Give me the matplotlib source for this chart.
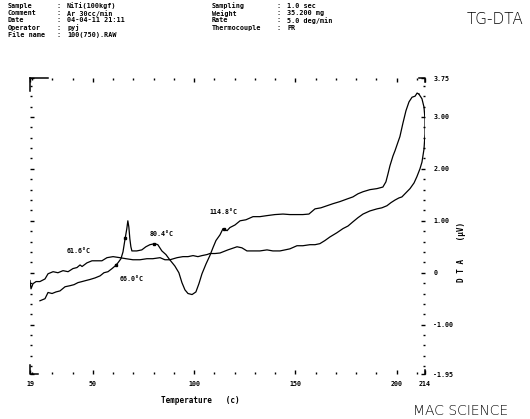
import matplotlib
matplotlib.use("Agg")
import matplotlib.pyplot as plt
import numpy as np

# heating run (lower-left start, sharp exotherm, dip, up to the top)
heat_T = [23.9, 26.4, 27.9, 29.9, 31.8, 33.8, 36.3, 38.7, 40.7, 42.7, 44.7, 46.6,
          48.6, 51.1, 53.6, 55.5, 57.5, 59.5, 61.0, 62.4, 63.9, 64.9, 65.8, 66.8,
          67.3, 67.8, 68.3, 68.8, 69.3, 71.7, 74.2, 76.2, 78.2, 80.6, 82.1, 84.1,
          86.1, 88.0, 90.5, 92.5, 94.0, 95.5, 97.0, 99.0, 100.9, 102.4, 103.9,
          105.9, 107.8, 109.3, 110.8, 112.8, 114.3, 116.3, 117.7, 120.2, 122.7,
          125.6, 129.1, 132.5, 136.0, 139.9, 143.9, 147.3, 150.8, 153.7, 156.7,
          159.7, 162.6, 165.6, 168.6, 172.0, 175.5, 178.4, 180.9, 183.4, 186.8,
          190.3, 193.2, 194.7, 195.7, 196.7, 198.2, 199.2, 200.7, 201.6, 203.1,
          204.6, 206.1, 207.6, 209.1, 210.1, 211.0]
heat_V = [-0.54, -0.50, -0.38, -0.40, -0.37, -0.35, -0.27, -0.25, -0.23, -0.19,
          -0.17, -0.15, -0.13, -0.10, -0.06, 0.00, 0.02, 0.08, 0.13, 0.19, 0.27,
          0.40, 0.62, 0.85, 1.00, 0.88, 0.65, 0.50, 0.42, 0.42, 0.44, 0.50, 0.54,
          0.56, 0.54, 0.42, 0.35, 0.25, 0.13, 0.00, -0.19, -0.33, -0.40, -0.42,
          -0.37, -0.21, -0.02, 0.17, 0.33, 0.48, 0.62, 0.73, 0.85, 0.81, 0.87,
          0.92, 1.00, 1.02, 1.08, 1.08, 1.10, 1.12, 1.13, 1.12, 1.12, 1.12, 1.13,
          1.23, 1.25, 1.29, 1.33, 1.37, 1.42, 1.46, 1.52, 1.56, 1.60, 1.62, 1.65,
          1.75, 1.90, 2.06, 2.25, 2.35, 2.52, 2.62, 2.88, 3.12, 3.29, 3.38, 3.40,
          3.46, 3.44]

# cooling run (stored low -> high temperature)
cool_T = [19.0, 19.5, 20.5, 22.0, 23.9, 26.4, 27.9, 30.4, 32.8, 35.3, 37.8, 40.2,
          42.2, 43.7, 44.7, 47.1, 49.6, 52.1, 54.5, 57.0, 60.0, 63.4, 66.4, 69.8,
          73.3, 76.7, 79.6, 83.2, 85.6, 88.1, 91.6, 94.5, 97.0, 99.5, 101.9, 103.9,
          106.4, 107.8, 110.3, 112.8, 116.7, 121.2, 123.6, 126.1, 129.1, 132.5,
          136.0, 138.9, 142.4, 144.9, 147.3, 150.8, 153.7, 157.2, 159.7, 162.1,
          164.6, 167.1, 170.5, 173.5, 176.0, 178.4, 180.9, 183.4, 186.8, 190.3,
          192.7, 195.2, 197.2, 199.2, 201.1, 202.6, 204.6, 206.6, 208.6, 210.0,
          211.5, 212.5, 213.5, 214.0, 214.0, 213.5, 212.5, 211.0]
cool_V = [-0.15, -0.31, -0.21, -0.17, -0.17, -0.12, -0.02, 0.02, 0.00, 0.04, 0.02,
          0.08, 0.10, 0.15, 0.12, 0.19, 0.23, 0.23, 0.23, 0.29, 0.31, 0.29, 0.27,
          0.25, 0.25, 0.27, 0.27, 0.29, 0.25, 0.25, 0.29, 0.31, 0.31, 0.33, 0.31,
          0.33, 0.35, 0.37, 0.37, 0.38, 0.44, 0.50, 0.48, 0.42, 0.42, 0.42, 0.44,
          0.42, 0.42, 0.44, 0.46, 0.52, 0.52, 0.54, 0.54, 0.56, 0.62, 0.69, 0.77,
          0.85, 0.90, 0.98, 1.06, 1.13, 1.19, 1.23, 1.25, 1.29, 1.35, 1.40, 1.44,
          1.46, 1.54, 1.62, 1.73, 1.85, 2.00, 2.13, 2.38, 2.67, 2.96, 3.19, 3.35,
          3.44]

# marked temperatures and where their labels sit (T, V)
peak_temps = [61.6, 66.0, 80.4, 114.8]
peak_labels = ["61.6°C", "66.0°C", "80.4°C", "114.8°C"]
label_T = [37.3, 63.4, 78.1, 107.8]
label_V = [0.42, -0.13, 0.75, 1.17]

x_ticks = [19, 50, 100, 150, 200, 214]
x_ticklabels = ["19", "50", "100", "150", "200", "214"]
y_ticks = [-1.95, -1.0, 0.0, 1.0, 2.0, 3.0, 3.75]
y_ticklabels = ["-1.95", "-1.00", "0", "1.00", "2.00", "3.00", "3.75"]

header_left = [("Sample", "NiTi(100kgf)"), ("Comment", "Ar 30cc/min"),
               ("Date", "04-04-11 21:11"), ("Operator", "pyj"),
               ("File name", "100(750).RAW")]
header_right = [("Sampling", "1.0 sec"), ("Weight", "35.200 mg"),
                ("Rate", "5.0 deg/min"), ("Thermocouple", "PR")]

W, H = 530, 419
mono = "DejaVu Sans Mono"

fig = plt.figure(figsize=(W / 100, H / 100), dpi=100)
ax = fig.add_axes([30 / W, 1 - 374 / H, 395 / W, 296 / H])

ax.plot(heat_T, heat_V, color="black", lw=0.9)
ax.plot(cool_T, cool_V, color="black", lw=0.9)

mark_V = np.interp(peak_temps, heat_T, heat_V)
ax.plot(peak_temps, mark_V, "s", color="black", ms=1.8)
for t, v, s in zip(label_T, label_V, peak_labels):
    ax.text(t, v, s, fontsize=4.8, family=mono, fontweight="bold", va="center")

ax.set_xlim(19, 214)
ax.set_ylim(-1.95, 3.75)
for sp in ax.spines.values():
    sp.set_visible(False)

ax.set_xticks(x_ticks)
ax.set_xticklabels(x_ticklabels)
ax.set_xticks([t for t in range(20, 214, 10) if t % 50], minor=True)
ax.set_yticks(y_ticks)
ax.set_yticklabels(y_ticklabels)
ax.set_yticks([round(v, 1) for v in np.arange(-1.8, 3.7, 0.2)
               if abs(v - round(v)) > 0.05], minor=True)

ax.tick_params(which="both", top=True, right=True, left=True, bottom=True,
               direction="in", color="black", width=1.0)
ax.tick_params(which="major", length=3, labelsize=4.8, pad=5)
ax.tick_params(which="minor", length=1.5)
ax.tick_params(axis="y", labelleft=False, labelright=True, pad=6)
for lab in ax.get_xticklabels() + ax.get_yticklabels():
    lab.set_family(mono)
    lab.set_fontweight("bold")

# corner brackets of the plot frame
corner = dict(color="black", lw=1.1, transform=ax.transAxes, clip_on=False)
ax.plot([0, 0, 0.02], [0.03, 0, 0], **corner)
ax.plot([0, 0], [1, 0.955], **corner)
ax.plot([0, 0.045], [1, 1], **corner)
ax.plot([0.985, 1, 1], [1, 1, 0.985], **corner)
ax.plot([1, 1], [0, 0.015], **corner)

# header block
hdr = dict(fontsize=4.9, family=mono, fontweight="bold", va="center")
for i, (k, v) in enumerate(header_left):
    y = 1 - (6 + 7.2 * i) / H
    fig.text(8 / W, y, k, **hdr)
    fig.text(57 / W, y, ":", **hdr)
    fig.text(67 / W, y, v, **hdr)
for i, (k, v) in enumerate(header_right):
    y = 1 - (6 + 7.2 * i) / H
    fig.text(212 / W, y, k, **hdr)
    fig.text(277 / W, y, ":", **hdr)
    fig.text(287 / W, y, v, **hdr)

fig.text(467 / W, 1 - 19 / H, "TG-DTA", fontsize=11, fontweight="light", va="center")
fig.text(413 / W, 1 - 411 / H, "MAC SCIENCE", fontsize=10, fontweight="light", va="center")
fig.text(200 / W, 1 - 400 / H, "Temperature   (c)", fontsize=5.5, family=mono,
         fontweight="bold", ha="center", va="center")
fig.text(462 / W, 1 - 252 / H, "D T A    (\u03bcV)", fontsize=5.5, family=mono,
         fontweight="bold", ha="center", va="center", rotation=90)

fig.savefig("out.png", dpi=100, facecolor="white")
